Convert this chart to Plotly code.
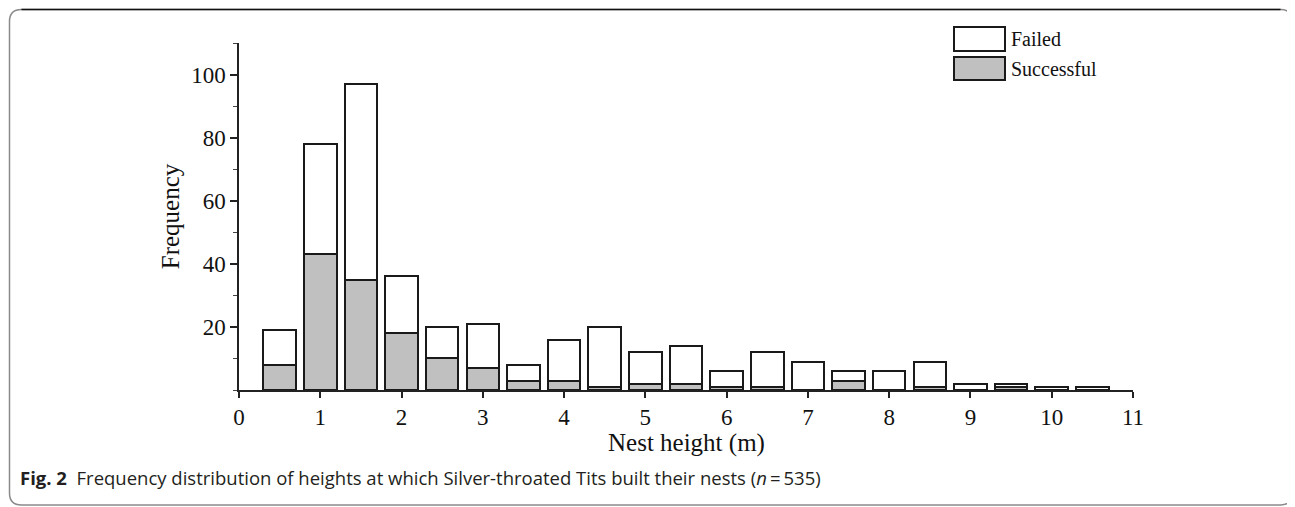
import plotly.graph_objects as go

heights = [0.5, 1, 1.5, 2, 2.5, 3, 3.5, 4, 4.5, 5, 5.5, 6, 6.5, 7, 7.5, 8, 8.5, 9, 9.5, 10, 10.5]
total = [19, 78, 97, 36, 20, 21, 8, 16, 20, 12, 14, 6, 12, 9, 6, 6, 9, 2, 2, 1, 1]
successful = [8, 43, 35, 18, 10, 7, 3, 3, 1, 2, 2, 1, 1, 0, 3, 0, 1, 0, 1, 0, 0]
failed = [t - s for t, s in zip(total, successful)]
x_ticks = list(range(0, 12))
y_ticks = [20, 40, 60, 80, 100]

OFF = 8  # page body margin
W, H = 1295 - OFF, 507 - OFF
L, R, T, B = 239 - OFF, 1133 - OFF, 43 - OFF, 390 - OFF  # plot area in figure pixels


def px(x):  # x given in screen (reference) pixels
    return (x - OFF - L) / (R - L)


def py(y):
    return (B - (y - OFF)) / (B - T)


SERIF = "Liberation Serif, Times New Roman, serif"
GRAY = "#c0c0c0"

fig = go.Figure()
fig.add_trace(go.Bar(x=heights, y=successful, name="Successful", width=0.4,
                     marker=dict(color=GRAY, line=dict(color="#1a1a1a", width=2))))
fig.add_trace(go.Bar(x=heights, y=failed, name="Failed", width=0.4,
                     marker=dict(color="white", line=dict(color="#1a1a1a", width=2))))

shapes = []
# outer rounded frame
x0, x1, y0, y1, r = 9.5, 1292.5, 9.5, 505, 12
path = (f"M {px(x0)},{py(y0 + r)} Q {px(x0)},{py(y0)} {px(x0 + r)},{py(y0)} "
        f"L {px(x1 - r)},{py(y0)} Q {px(x1)},{py(y0)} {px(x1)},{py(y0 + r)} "
        f"L {px(x1)},{py(y1 - r)} Q {px(x1)},{py(y1)} {px(x1 - r)},{py(y1)} "
        f"L {px(x0 + r)},{py(y1)} Q {px(x0)},{py(y1)} {px(x0)},{py(y1 - r)} Z")
shapes.append(dict(type="path", xref="paper", yref="paper", path=path,
                   line=dict(color="#8a8a8a", width=1.5), layer="below"))
shapes.append(dict(type="line", xref="paper", yref="paper", x0=px(x0 + r), x1=px(x1 - r),
                   y0=py(y0), y1=py(y0), line=dict(color="#111111", width=1.5)))
# manual legend boxes
for (yy0, yy1, col) in [(27, 51, "white"), (57, 80, GRAY)]:
    shapes.append(dict(type="rect", xref="paper", yref="paper",
                       x0=px(954), x1=px(1005), y0=py(yy1), y1=py(yy0),
                       fillcolor=col, line=dict(color="#1a1a1a", width=2)))

annotations = [
    dict(text="Failed", xref="paper", yref="paper", x=px(1009), y=py(39), xanchor="left",
         yanchor="middle", showarrow=False, font=dict(family=SERIF, size=20, color="#111")),
    dict(text="Successful", xref="paper", yref="paper", x=px(1009), y=py(69), xanchor="left",
         yanchor="middle", showarrow=False, font=dict(family=SERIF, size=20, color="#111")),
    dict(text="Nest height (m)", xref="paper", yref="paper", x=0.5, y=py(443), xanchor="center",
         yanchor="middle", showarrow=False, font=dict(family=SERIF, size=25, color="#111")),
    dict(text="<b>Fig. 2</b>  Frequency distribution of heights at which Silver-throated Tits "
              "built their nests (<i>n</i>\u2009=\u2009535)",
         xref="paper", yref="paper", x=px(18), y=py(477), xanchor="left", yanchor="middle",
         showarrow=False, font=dict(family="Open Sans, Noto Sans, sans-serif", size=18.5, color="#231f20")),
]

fig.update_layout(
    barmode="stack",
    width=W, height=H,
    margin=dict(l=L, r=W - R, t=T, b=H - B, pad=0),
    paper_bgcolor="white", plot_bgcolor="white",
    showlegend=False,
    shapes=shapes,
    annotations=annotations,
    bargap=0,
)
fig.update_xaxes(range=[0, 11], tickvals=x_ticks, ticktext=[str(v) for v in x_ticks],
                 showline=True, linecolor="#222", linewidth=1.5, ticks="outside",
                 ticklen=6, tickwidth=1.5, tickcolor="#222", showgrid=False, zeroline=False,
                 tickfont=dict(family=SERIF, size=23, color="#111"))
fig.update_yaxes(range=[0, 110], tickvals=y_ticks, ticktext=[str(v) for v in y_ticks],
                 showline=True, linecolor="#222", linewidth=1.5, ticks="outside",
                 ticklen=7, tickwidth=1.5, tickcolor="#222", showgrid=False, zeroline=False,
                 minor=dict(ticks="outside", ticklen=4, tickwidth=1, tickcolor="#444", dtick=10, tick0=0),
                 tickfont=dict(family=SERIF, size=23, color="#111"),
                 title=dict(text="Frequency", font=dict(family=SERIF, size=25, color="#111"),
                            standoff=4))

fig.write_html("out.html")
